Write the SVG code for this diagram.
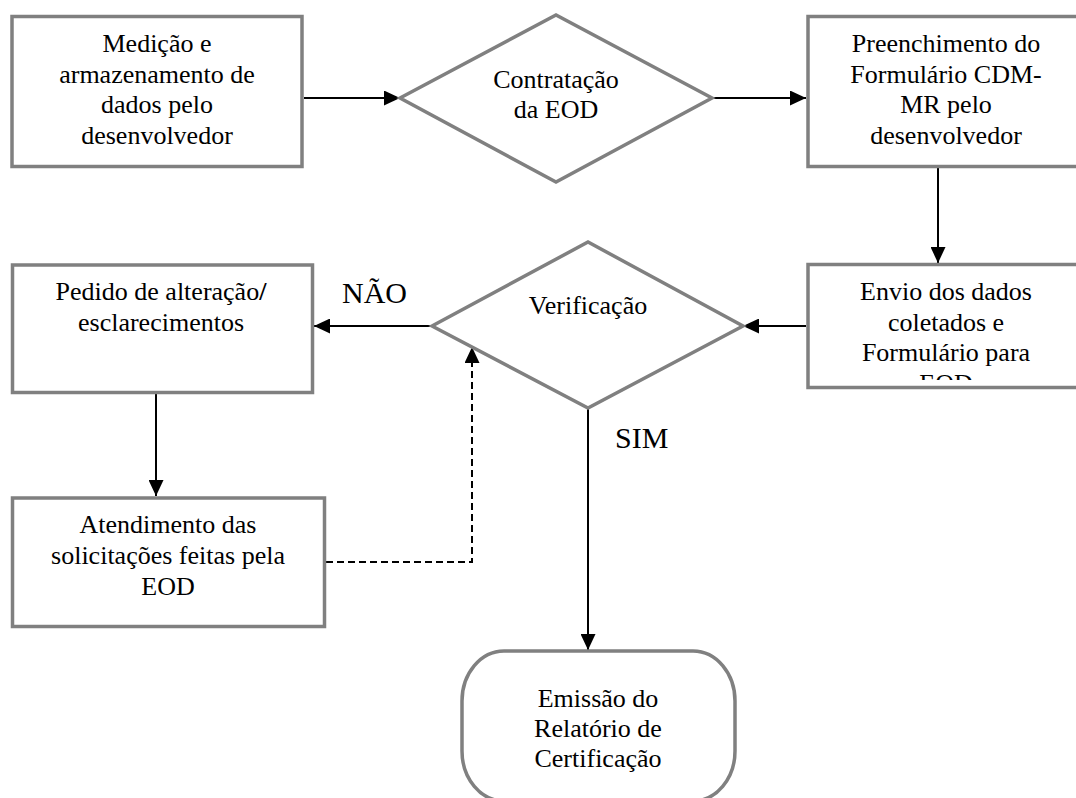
<svg xmlns="http://www.w3.org/2000/svg" width="1076" height="798" viewBox="0 0 1076 798">
  <style>
    .shape { fill: #ffffff; stroke: #808080; stroke-width: 3.5; }
    .label { font-family: 'Liberation Serif', Tinos, 'Times New Roman', 'DejaVu Serif', serif; font-size: 26px; fill: #000000; text-anchor: middle; }
    .branch { font-family: 'Liberation Serif', Tinos, 'Times New Roman', 'DejaVu Serif', serif; font-size: 30px; fill: #000000; }
    .flow { fill: none; stroke: #000000; stroke-width: 2; }
    .dashed { stroke-dasharray: 7 4; }
  </style>
  <defs>
    <marker id="arrow" markerUnits="userSpaceOnUse" markerWidth="16" markerHeight="15" refX="16" refY="7.5" orient="auto">
      <path d="M0,0 L16,7.5 L0,15 Z" fill="#000000"/>
    </marker>
    <clipPath id="clip-envio">
      <rect x="810" y="266" width="266" height="114"/>
    </clipPath>
  </defs>

  <rect width="1076" height="798" fill="#ffffff"/>

  <!-- connectors -->
  <g id="connectors">
    <line class="flow" x1="304" y1="98" x2="400" y2="98" marker-end="url(#arrow)"/>
    <line class="flow" x1="712" y1="98" x2="806" y2="98" marker-end="url(#arrow)"/>
    <line class="flow" x1="938" y1="168" x2="938" y2="263" marker-end="url(#arrow)"/>
    <line class="flow" x1="806" y1="326" x2="743" y2="326" marker-end="url(#arrow)"/>
    <line class="flow" x1="432" y1="326" x2="314" y2="326" marker-end="url(#arrow)"/>
    <line class="flow" x1="156" y1="394" x2="156" y2="496" marker-end="url(#arrow)"/>
    <polyline class="flow dashed" points="326,562 472,562 472,347" marker-end="url(#arrow)"/>
    <line class="flow" x1="588" y1="409" x2="588" y2="650" marker-end="url(#arrow)"/>
    <text class="branch" x="342" y="303">NÃO</text>
    <text class="branch" x="615" y="448">SIM</text>
  </g>

  <!-- measurement and storage -->
  <g id="medicao">
    <rect class="shape" x="12" y="16.5" width="290" height="150"/>
    <text class="label" x="157" y="52">Medição e</text>
    <text class="label" x="157" y="83">armazenamento de</text>
    <text class="label" x="157" y="113">dados pelo</text>
    <text class="label" x="157" y="143.5">desenvolvedor</text>
  </g>

  <!-- hiring decision -->
  <g id="contratacao">
    <polygon class="shape" points="400,98 556,15 712,98 556,182"/>
    <text class="label" x="556" y="88">Contratação</text>
    <text class="label" x="556" y="118">da EOD</text>
  </g>

  <!-- form filling -->
  <g id="preenchimento">
    <rect class="shape" x="808" y="16.5" width="277" height="150"/>
    <text class="label" x="946" y="52">Preenchimento do</text>
    <text class="label" x="946" y="83">Formulário CDM-</text>
    <text class="label" x="946" y="113">MR pelo</text>
    <text class="label" x="946" y="143.5">desenvolvedor</text>
  </g>

  <!-- data submission -->
  <g id="envio">
    <rect class="shape" x="808" y="264.5" width="277" height="123"/>
    <g clip-path="url(#clip-envio)">
      <text class="label" x="946" y="300">Envio dos dados</text>
      <text class="label" x="946" y="330.5">coletados e</text>
      <text class="label" x="946" y="361">Formulário para</text>
      <text class="label" x="946" y="391.5">EOD</text>
    </g>
  </g>

  <!-- verification decision -->
  <g id="verificacao">
    <polygon class="shape" points="432,326 588,242 743,326 588,408"/>
    <text class="label" x="588" y="314">Verificação</text>
  </g>

  <!-- change request -->
  <g id="pedido">
    <rect class="shape" x="12.5" y="265" width="300" height="127.5"/>
    <text class="label" x="161" y="300">Pedido de alteração<tspan font-weight="bold">/</tspan></text>
    <text class="label" x="161" y="331">esclarecimentos</text>
  </g>

  <!-- handling requests -->
  <g id="atendimento">
    <rect class="shape" x="12.5" y="498" width="312" height="128.5"/>
    <text class="label" x="168" y="533">Atendimento das</text>
    <text class="label" x="168" y="564">solicitações feitas pela</text>
    <text class="label" x="168" y="595">EOD</text>
  </g>

  <!-- certification report terminal -->
  <g id="emissao">
    <rect class="shape" x="462" y="651" width="273" height="150" rx="42" ry="50"/>
    <text class="label" x="598" y="707">Emissão do</text>
    <text class="label" x="598" y="737">Relatório de</text>
    <text class="label" x="598" y="767">Certificação</text>
  </g>
</svg>
